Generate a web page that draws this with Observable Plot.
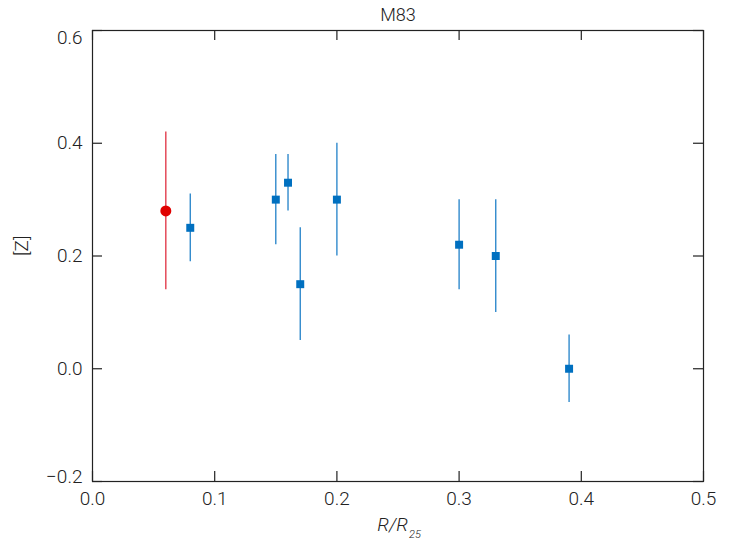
<!DOCTYPE html>
<html><head><meta charset="utf-8">
<script src="https://cdn.jsdelivr.net/npm/d3@7"></script>
<script src="https://cdn.jsdelivr.net/npm/@observablehq/plot@0.6"></script>
<style>body{margin:0;background:#fff}</style>
</head><body><div id="chart"></div>
<script>
// Data (M83 metallicity gradient)
const radius   = [0.08, 0.15, 0.16, 0.17, 0.20, 0.30, 0.33, 0.39];
const metal    = [0.25, 0.30, 0.33, 0.15, 0.30, 0.22, 0.20, 0.00];
const errLow   = [0.19, 0.22, 0.28, 0.05, 0.20, 0.14, 0.10, -0.06];
const errHigh  = [0.31, 0.38, 0.38, 0.25, 0.40, 0.30, 0.30, 0.06];
const refRadius = [0.06];
const refMetal  = [0.28];
const refLow    = [0.14];
const refHigh   = [0.42];
const xTicks = [0.0, 0.1, 0.2, 0.3, 0.4, 0.5];
const yTicksMid = [0.0, 0.2, 0.4];
const yTickTop = [0.6];
const yTickBottom = [-0.2];
const yTicks = [-0.2, 0.0, 0.2, 0.4, 0.6];
const titleText = "M83";
const xLabelMain = "R/R";
const xLabelSub = "25";
const yLabel = "[Z]";

const pts = radius.map((r, i) => ({r, z: metal[i], lo: errLow[i], hi: errHigh[i]}));
const refPts = refRadius.map((r, i) => ({r, z: refMetal[i], lo: refLow[i], hi: refHigh[i]}));

const W = 735, H = 540, mL = 92, mR = 32, mT = 30, mB = 59;
const innerW = W - mL - mR, innerH = H - mT - mB;
const fmt = d3.format(".1f");
const font = "Roboto, Liberation Sans, Arial, sans-serif";
const blue = "#0070c0", blueLine = "#2080c8", red = "#e00000", redLine = "#e03040";
const tickLen = 10;
const txt = "#222";

const chart = Plot.plot({
  width: W, height: H,
  marginLeft: mL, marginRight: mR, marginTop: mT, marginBottom: mB,
  style: {fontFamily: font, fontSize: "19px", fontWeight: 300, color: txt, background: "#fff"},
  x: {domain: [0, 0.5], label: null},
  y: {domain: [-0.2, 0.6], label: null},
  marks: [
    // error bars
    Plot.ruleX(pts, {x: "r", y1: "lo", y2: "hi", stroke: blueLine, strokeWidth: 1.3}),
    Plot.ruleX(refPts, {x: "r", y1: "lo", y2: "hi", stroke: redLine, strokeWidth: 1.3}),
    // markers
    Plot.dot(pts, {x: "r", y: "z", symbol: "square", r: 4.5, fill: blue}),
    Plot.dot(refPts, {x: "r", y: "z", symbol: "circle", r: 5.5, fill: red}),
    // inward ticks on all four sides
    Plot.tickX(xTicks, {x: d => d, insetTop: innerH - tickLen, stroke: txt, strokeWidth: 1.2}),
    Plot.tickX(xTicks, {x: d => d, insetBottom: innerH - tickLen, stroke: txt, strokeWidth: 1.2}),
    Plot.tickY(yTicks, {y: d => d, insetRight: innerW - tickLen, stroke: txt, strokeWidth: 1.2}),
    Plot.tickY(yTicks, {y: d => d, insetLeft: innerW - tickLen, stroke: txt, strokeWidth: 1.2}),
    Plot.frame({stroke: txt, strokeWidth: 1.2}),
    // tick labels
    Plot.axisX({ticks: xTicks, tickSize: 0, tickPadding: 10, tickFormat: fmt, fontSize: 19, label: null, fill: txt}),
    Plot.axisY({ticks: yTicksMid, tickSize: 0, tickPadding: 10, tickFormat: fmt, fontSize: 19, label: null, fill: txt}),
    Plot.axisY({ticks: yTickTop, tickSize: 0, tickPadding: 10, tickFormat: fmt, fontSize: 19, label: null, fill: txt, dy: 7}),
    Plot.axisY({ticks: yTickBottom, tickSize: 0, tickPadding: 10, tickFormat: fmt, fontSize: 19, label: null, fill: txt, dy: -5}),
    // title and axis labels
    Plot.text([titleText], {frameAnchor: "top", text: d => d, dy: -10, lineAnchor: "bottom", fontSize: 18, fill: txt}),
    Plot.text([xLabelMain], {frameAnchor: "bottom", text: d => d, textAnchor: "end", dx: 10, dy: 49, lineAnchor: "bottom", fontSize: 19, fontStyle: "italic", fill: txt}),
    Plot.text([xLabelSub], {frameAnchor: "bottom", text: d => d, textAnchor: "start", dx: 11, dy: 56, lineAnchor: "bottom", fontSize: 11, fontStyle: "italic", fill: txt}),
    Plot.text([yLabel], {frameAnchor: "left", text: d => d, rotate: -90, dx: -71, lineAnchor: "middle", fontSize: 19, fill: txt})
  ]
});
document.getElementById("chart").appendChild(chart);
</script>
</body></html>
